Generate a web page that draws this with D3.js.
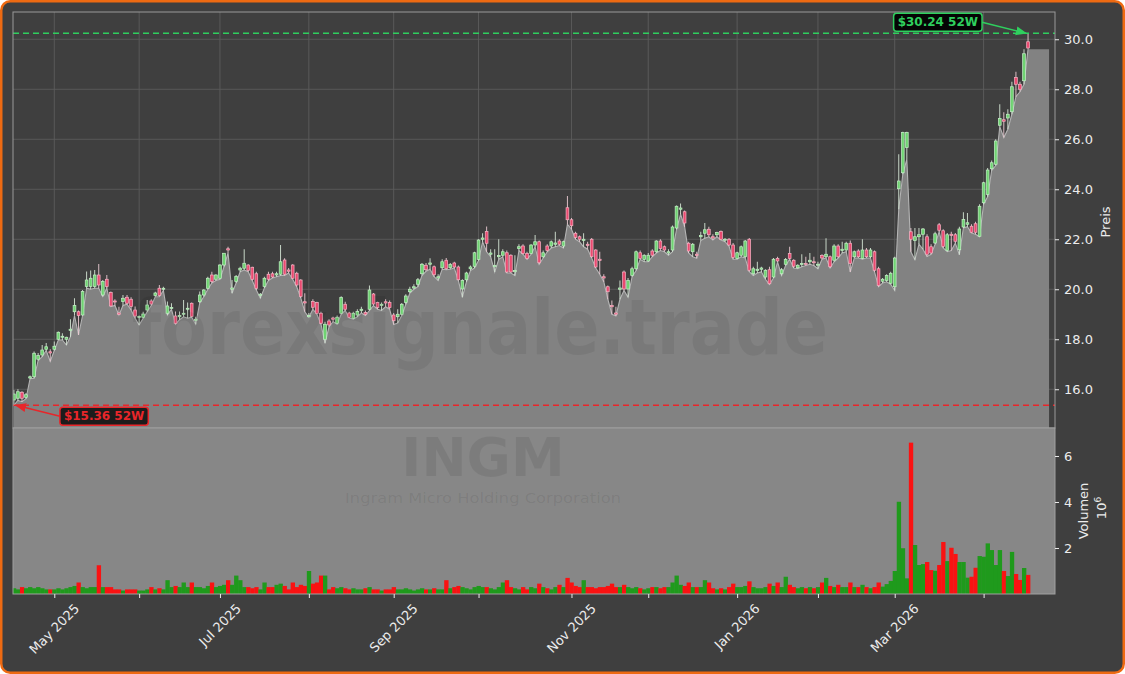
<!DOCTYPE html>
<html><head><meta charset="utf-8">
<script src="https://cdn.jsdelivr.net/npm/d3@7"></script>
<style>
html,body{margin:0;padding:0;background:#ffffff;}
svg{display:block;font-family:"DejaVu Sans",sans-serif;}
</style></head>
<body>
<svg id="chart" width="1125" height="674"></svg>
<script>
// ---------------- DATA ----------------
const opens = [15.57,15.64,15.88,15.68,16.45,16.50,17.20,17.37,17.60,17.50,17.60,18.00,18.10,18.00,18.35,19.10,19.10,18.97,20.11,20.11,
20.11,20.57,19.77,20.40,19.87,19.53,19.05,19.51,19.68,19.60,19.17,18.90,18.88,19.17,19.53,19.75,20.04,20.00,19.04,19.24,
18.93,18.90,19.00,19.20,19.44,18.75,19.50,19.77,20.04,20.57,20.40,20.44,20.97,21.62,20.00,20.31,20.77,20.84,20.97,20.88,
20.62,19.75,20.11,20.60,20.62,20.57,20.60,21.17,20.77,20.97,20.64,20.37,19.50,18.90,19.51,19.47,19.04,18.00,18.73,18.85,
18.64,19.04,19.40,19.05,18.84,18.97,19.15,19.07,19.20,19.81,19.47,19.35,19.50,19.47,18.97,18.90,19.00,19.47,19.90,20.05,
20.20,20.62,20.96,21.00,20.90,20.45,20.86,21.16,20.86,21.05,20.89,20.01,20.38,20.82,20.92,21.19,22.00,22.31,21.40,20.90,
21.30,21.36,21.46,21.36,20.70,21.63,21.73,21.43,21.43,21.77,21.90,21.30,21.73,21.73,21.80,21.93,21.73,23.26,22.78,22.24,
22.10,21.95,21.80,22.00,21.57,21.20,20.50,20.10,19.35,19.05,20.00,20.69,20.01,20.55,20.82,21.46,21.19,21.13,21.53,21.50,
21.93,21.70,21.45,21.57,22.45,23.20,23.10,21.84,21.50,21.40,22.10,22.24,22.40,22.10,22.18,22.31,21.97,22.00,21.77,21.23,
21.36,21.30,22.00,20.62,20.75,20.80,20.49,20.78,20.49,21.23,20.62,21.00,21.43,21.16,20.86,21.00,21.03,21.10,21.10,20.96,
21.35,21.30,21.30,21.16,21.73,21.55,21.57,21.84,21.30,21.53,21.23,21.57,21.30,21.50,20.82,20.32,20.35,20.24,20.10,24.02,
24.66,25.67,22.30,21.95,22.10,22.20,22.10,21.70,21.85,22.58,22.34,21.55,22.20,22.18,21.58,22.49,22.60,22.52,22.62,22.12,
23.46,23.79,24.82,25.00,26.56,26.78,26.85,27.10,28.47,28.20,28.34,29.90];
const highs = [15.97,16.00,15.92,15.85,16.55,17.51,17.45,17.77,17.85,17.60,17.91,18.31,18.24,18.10,18.80,19.64,19.15,19.97,20.71,20.75,
20.77,21.01,20.37,20.57,19.91,19.60,19.30,19.77,19.77,19.68,19.31,18.95,19.10,19.57,19.60,19.90,20.17,20.10,19.51,19.44,
19.11,19.11,19.57,19.47,19.47,18.90,19.91,20.00,20.50,20.70,20.60,21.00,21.45,21.70,20.37,20.57,20.90,21.60,21.00,20.90,
20.70,19.85,20.50,20.70,20.70,20.70,21.77,21.24,20.85,21.00,20.70,20.40,19.84,19.05,19.60,19.50,19.10,18.70,18.80,18.90,
18.95,19.72,19.50,19.10,19.10,19.20,19.30,19.15,20.15,19.85,19.50,19.47,19.60,19.55,19.05,19.20,19.45,19.80,20.10,20.20,
20.45,21.05,21.05,21.24,20.95,20.60,21.20,21.25,21.05,21.10,20.95,20.40,20.70,20.95,21.50,22.00,22.24,22.51,21.60,21.60,
22.00,21.60,21.55,21.40,21.36,21.80,21.80,21.50,21.80,22.17,21.95,21.55,21.80,21.95,22.30,22.00,21.95,23.73,22.85,22.30,
22.15,22.24,21.90,22.05,21.60,21.50,20.60,20.15,19.55,19.30,20.35,20.75,20.45,20.90,21.55,21.55,21.40,21.45,21.60,21.96,
22.00,21.75,21.60,22.55,23.35,23.43,23.15,21.90,21.85,21.50,22.30,22.65,22.50,22.20,22.30,22.35,22.05,22.05,21.85,21.50,
21.75,21.97,22.05,20.90,21.10,20.90,20.80,20.90,21.25,21.30,20.85,21.25,21.70,21.20,21.00,21.40,21.30,21.45,21.30,21.10,
21.40,22.04,21.35,21.80,21.80,21.90,21.90,21.95,21.55,21.60,22.00,21.65,21.65,21.55,20.90,20.45,20.60,20.70,21.30,25.40,
26.30,26.30,22.45,22.45,22.45,22.45,22.20,21.80,22.30,22.65,22.40,22.25,22.30,22.25,22.50,23.08,23.05,22.60,22.70,23.40,
24.30,24.85,25.15,26.00,27.40,27.08,27.20,28.30,28.70,28.30,29.60,30.24];
const lows = [15.36,15.55,15.50,15.62,16.42,16.44,17.15,17.30,17.55,17.11,17.55,17.97,17.97,17.77,18.10,18.95,18.17,18.95,20.04,20.00,
20.04,20.04,19.71,20.04,19.31,19.35,18.97,19.35,19.40,19.17,18.84,18.57,18.84,19.10,19.35,19.70,19.70,19.95,18.97,19.20,
18.60,18.78,18.90,18.84,18.88,18.60,19.45,19.70,20.00,20.25,20.35,20.40,20.90,21.45,19.84,20.25,20.70,20.77,20.70,20.35,
19.97,19.64,20.05,20.35,20.45,20.50,20.55,20.55,20.65,20.40,20.10,19.65,19.10,18.88,19.20,19.00,18.60,17.84,18.50,18.70,
18.60,19.00,19.15,18.85,18.80,18.90,19.05,18.95,19.15,19.35,19.20,19.15,19.30,19.20,18.59,18.65,18.95,19.40,19.85,20.00,
20.10,20.55,20.72,20.80,20.50,20.35,20.80,20.78,20.80,20.85,20.35,19.68,20.30,20.75,20.85,21.15,21.90,21.50,21.30,20.69,
21.20,21.30,20.65,20.65,20.55,21.55,21.40,21.20,21.40,21.70,21.00,21.25,21.50,21.65,21.70,21.75,21.65,22.60,22.40,22.00,
21.90,21.70,21.60,21.25,20.85,20.60,20.30,19.60,19.00,18.93,19.60,19.95,19.68,20.50,20.75,21.20,21.10,21.10,21.30,21.45,
21.55,21.50,21.36,21.50,22.40,23.00,22.50,21.45,21.30,21.24,21.95,22.04,22.10,21.97,22.10,21.97,21.90,21.72,21.20,21.20,
21.30,21.25,20.70,20.55,20.65,20.69,20.40,20.19,20.45,21.10,20.55,20.95,21.20,20.85,20.82,20.90,20.95,21.00,20.95,20.82,
21.20,21.25,20.85,21.10,21.25,21.45,21.50,20.69,21.25,21.25,21.20,21.25,21.25,20.70,20.10,20.25,20.30,20.20,19.95,23.20,
24.60,25.20,21.50,21.18,21.80,21.60,21.31,21.40,21.80,22.30,21.65,21.50,21.55,21.85,21.38,22.45,22.50,22.25,22.20,22.10,
23.40,23.70,24.75,24.95,26.50,26.07,26.40,27.00,27.70,27.90,28.20,29.60];
const closes = [15.81,15.90,15.64,15.78,16.50,17.44,17.35,17.57,17.70,17.45,17.72,18.28,18.12,18.08,18.40,19.35,18.95,19.91,20.37,20.44,
20.57,20.17,20.31,20.11,19.33,19.50,19.00,19.64,19.44,19.31,18.93,18.91,19.01,19.37,19.41,19.85,19.75,20.04,19.33,19.27,
18.64,18.95,19.04,19.24,18.91,18.80,19.77,19.97,20.44,20.31,20.57,20.97,21.44,21.57,20.05,20.51,20.84,21.04,20.75,20.40,
20.04,19.80,20.44,20.40,20.49,20.62,21.10,20.60,20.72,20.44,20.17,19.71,19.45,18.95,19.28,19.04,18.64,18.60,18.57,18.80,
18.88,19.67,19.20,18.88,19.04,19.11,19.20,19.00,19.97,19.41,19.27,19.40,19.45,19.27,18.74,19.00,19.40,19.73,20.00,20.10,
20.38,21.00,20.78,21.05,20.58,20.50,21.10,20.82,20.99,20.89,20.38,20.35,20.65,20.89,21.46,21.97,22.05,21.84,21.45,20.95,
21.35,21.50,20.69,20.69,20.75,21.70,21.43,21.23,21.77,21.90,21.06,21.46,21.55,21.90,21.85,21.80,21.90,22.78,22.54,22.07,
22.00,22.00,21.75,21.30,20.89,21.15,20.45,19.90,19.30,19.00,20.05,20.01,20.35,20.82,21.50,21.23,21.36,21.36,21.36,21.93,
21.63,21.57,21.50,22.49,23.32,23.25,22.65,21.53,21.80,21.35,22.15,22.38,22.18,22.05,22.27,22.00,22.00,21.77,21.27,21.46,
21.70,21.93,20.76,20.82,20.80,20.85,20.76,20.22,21.20,21.13,20.78,21.19,21.23,20.92,20.96,21.03,21.00,21.16,21.08,21.00,
21.25,21.40,20.90,21.73,21.30,21.60,21.84,21.03,21.50,21.30,21.57,21.30,21.57,20.76,20.15,20.40,20.55,20.64,21.25,24.33,
26.27,26.27,22.00,22.10,22.18,22.41,21.40,21.45,22.22,22.36,21.71,22.18,22.15,21.92,22.41,22.79,22.66,22.28,22.28,23.32,
24.26,24.77,25.06,25.93,26.83,26.72,27.00,28.10,28.20,28.00,29.42,29.65];
// volume in millions of shares
const volumes = [0.25,0.20,0.30,0.25,0.30,0.25,0.30,0.25,0.20,0.20, 0.20,0.25,0.20,0.25,0.30,0.35,0.50,0.30,0.25,0.30,
0.30,1.25,0.30,0.30,0.30,0.20,0.20,0.15,0.20,0.20, 0.20,0.15,0.15,0.20,0.30,0.20,0.25,0.20,0.60,0.30,
0.35,0.30,0.50,0.30,0.50,0.30,0.30,0.25,0.35,0.50, 0.30,0.35,0.40,0.60,0.40,0.80,0.60,0.30,0.30,0.25,
0.30,0.20,0.50,0.30,0.30,0.40,0.45,0.35,0.20,0.50, 0.30,0.40,0.35,1.00,0.45,0.50,0.80,0.80,0.20,0.30,
0.25,0.30,0.25,0.20,0.25,0.20,0.20,0.25,0.30,0.20, 0.20,0.15,0.20,0.20,0.30,0.20,0.20,0.25,0.20,0.15,
0.20,0.25,0.20,0.20,0.25,0.20,0.20,0.60,0.25,0.30, 0.35,0.30,0.25,0.20,0.30,0.35,0.30,0.30,0.25,0.20,
0.30,0.50,0.60,0.30,0.25,0.20,0.30,0.20,0.30,0.25, 0.45,0.30,0.25,0.20,0.30,0.40,0.30,0.70,0.50,0.35,
0.30,0.60,0.30,0.30,0.25,0.30,0.30,0.35,0.45,0.30, 0.30,0.40,0.30,0.25,0.30,0.25,0.20,0.25,0.30,0.30,
0.25,0.30,0.30,0.50,0.80,0.40,0.35,0.50,0.30,0.30, 0.30,0.60,0.50,0.25,0.20,0.25,0.20,0.30,0.45,0.30,
0.30,0.35,0.55,0.30,0.25,0.25,0.30,0.45,0.35,0.50, 0.30,0.75,0.40,0.30,0.25,0.30,0.25,0.30,0.25,0.30,
0.50,0.70,0.35,0.30,0.40,0.30,0.30,0.50,0.30,0.30, 0.40,0.30,0.25,0.30,0.50,0.32,0.43,0.57,1.00,4.01,
1.99,0.68,6.58,2.13,1.26,1.30,1.39,1.04,1.01,1.26, 2.26,1.43,2.01,1.74,1.39,1.39,0.71,0.75,1.14,1.65,
1.62,2.20,1.91,1.26,1.91,1.00,0.78,1.83,0.87,0.61, 1.13,0.83];
// month ticks (trading-day index of first session of month)
const tickIndex  = [10,31,51,73,94,115,138,157,179,199,218,240];
const tickLabels = ["May 2025","","Jul 2025","","Sep 2025","","Nov 2025","","Jan 2026","","Mar 2026",""];
const priceTicks = [16,18,20,22,24,26,28,30];
const volumeTicks = [2,4,6];
const high52 = 30.24, low52 = 15.36;
const watermark = "forexsignale.trade", symbol = "INGM", companyName = "Ingram Micro Holding Corporation";

// ---------------- LAYOUT ----------------
const svg = d3.select("#chart");
const L = 13, R = 1055, pTop = 12, pBot = 428, vTop = 428, vBot = 594;
const n = closes.length;
const x = d3.scaleLinear().domain([-0.22, 257.67]).range([L, R]);
const y = d3.scaleLinear().domain([14.45, 31.09]).range([pBot, pTop]);
const yv = d3.scaleLinear().domain([0, 7.217]).range([vBot, vTop]);
const step = x(1) - x(0);

const BG = "#3f3f3f", TXT = "#ececec";
svg.append("rect").attr("x",1.25).attr("y",1.25).attr("width",1122.5).attr("height",671.5)
  .attr("rx",9).attr("fill",BG).attr("stroke","#ee6a12").attr("stroke-width",2.5);

const defs = svg.append("defs");
defs.append("clipPath").attr("id","pclip").append("rect").attr("x",L).attr("y",pTop).attr("width",R-L).attr("height",pBot-pTop);
defs.append("clipPath").attr("id","vclip").append("rect").attr("x",L).attr("y",vTop).attr("width",R-L).attr("height",vBot-vTop);
function marker(id,color){
  defs.append("marker").attr("id",id).attr("viewBox","0 0 10 10").attr("refX",9).attr("refY",5)
    .attr("markerWidth",7).attr("markerHeight",7).attr("orient","auto-start-reverse")
    .append("path").attr("d","M0,1 L10,5 L0,9 z").attr("fill",color);
}
marker("mg","#2fcf5e"); marker("mr","#e8262a");

// price panel background + grid
svg.append("rect").attr("x",L).attr("y",pTop).attr("width",R-L).attr("height",pBot-pTop).attr("fill",BG);
const grid = svg.append("g").attr("stroke","#5c5c5c").attr("stroke-width",0.9);
grid.selectAll(".gh").data(priceTicks).join("line").attr("x1",L).attr("x2",R).attr("y1",d=>y(d)).attr("y2",d=>y(d));
grid.selectAll(".gv").data(tickIndex).join("line").attr("x1",d=>x(d)).attr("x2",d=>x(d)).attr("y1",pTop).attr("y2",pBot);

// area of lows (extends flat after last session)
const areaPts = lows.map((v,i)=>[i,v]);
areaPts.push([n-1+5.2, lows[n-1]]);
const pg = svg.append("g").attr("clip-path","url(#pclip)");
pg.append("path").datum(areaPts)
  .attr("d", d3.area().x(d=>x(d[0])).y0(pBot).y1(d=>y(d[1])))
  .attr("fill","#828282");
pg.append("path").datum(areaPts.slice(0,n))
  .attr("d", d3.line().x(d=>x(d[0])).y(d=>y(d[1])))
  .attr("fill","none").attr("stroke","#b4b4b4").attr("stroke-width",1.1);

// watermark
svg.append("text").attr("x",480).attr("y",354).attr("text-anchor","middle")
  .attr("font-size",76).attr("font-weight","bold").attr("fill","#000").attr("fill-opacity",0.065)
  .attr("textLength",696).attr("lengthAdjust","spacingAndGlyphs").text(watermark);

// candles
const cg = pg.append("g");
const bw = step*0.68;
cg.selectAll(".wick").data(closes).join("line")
  .attr("x1",(d,i)=>x(i)).attr("x2",(d,i)=>x(i))
  .attr("y1",(d,i)=>y(highs[i])).attr("y2",(d,i)=>y(lows[i]))
  .attr("stroke",(d,i)=> closes[i]>=opens[i] ? "#d6e6d6" : "#ecccd4").attr("stroke-width",0.9);
cg.selectAll(".body").data(closes).join("rect")
  .attr("x",(d,i)=>x(i)-bw/2).attr("width",bw)
  .attr("y",(d,i)=>y(Math.max(opens[i],closes[i])))
  .attr("height",(d,i)=>Math.max(1,Math.abs(y(opens[i])-y(closes[i]))))
  .attr("fill",(d,i)=> closes[i]>=opens[i] ? "#6fd372" : "#ea4a70")
  .attr("stroke",(d,i)=> closes[i]>=opens[i] ? "#c4f0c6" : "#f7b3c4").attr("stroke-width",0.7);

// 52W lines
pg.append("line").attr("x1",L).attr("x2",R).attr("y1",y(high52)).attr("y2",y(high52))
  .attr("stroke","#2fcf5e").attr("stroke-width",1.4).attr("stroke-dasharray","6,4");
pg.append("line").attr("x1",L).attr("x2",R).attr("y1",y(low52)).attr("y2",y(low52))
  .attr("stroke","#e8262a").attr("stroke-width",1.4).attr("stroke-dasharray","6,4");

// price panel frame
svg.append("rect").attr("x",L).attr("y",pTop).attr("width",R-L).attr("height",pBot-pTop)
  .attr("fill","none").attr("stroke","#9a9a9a").attr("stroke-width",1);

// volume panel
svg.append("rect").attr("x",L).attr("y",vTop).attr("width",R-L).attr("height",vBot-vTop).attr("fill","#878787");
svg.append("text").attr("x",483).attr("y",476).attr("text-anchor","middle")
  .attr("font-size",54).attr("font-weight","bold").attr("fill","#000").attr("fill-opacity",0.08).text(symbol);
svg.append("text").attr("x",483).attr("y",503).attr("text-anchor","middle")
  .attr("font-size",13.5).attr("fill","#000").attr("fill-opacity",0.08)
  .attr("textLength",276).attr("lengthAdjust","spacingAndGlyphs").text(companyName);
const vg = svg.append("g").attr("clip-path","url(#vclip)");
vg.selectAll(".vb").data(volumes).join("rect")
  .attr("x",(d,i)=>x(i)-step/2).attr("width",step+0.3)
  .attr("y",d=>yv(d)).attr("height",d=>vBot-yv(d))
  .attr("fill",(d,i)=> closes[i]>=opens[i] ? "#1f9a1c" : "#fa1212");
svg.append("rect").attr("x",L).attr("y",vTop).attr("width",R-L).attr("height",vBot-vTop)
  .attr("fill","none").attr("stroke","#a0a0a0").attr("stroke-width",1);

// right axes
const yAxis = d3.axisRight(y).tickValues(priceTicks).tickFormat(d3.format(".1f")).tickSize(4).tickPadding(5);
const ga = svg.append("g").attr("transform",`translate(${R},0)`).call(yAxis);
const vAxis = d3.axisRight(yv).tickValues(volumeTicks).tickFormat(d3.format("d")).tickSize(4).tickPadding(5);
const gv = svg.append("g").attr("transform",`translate(${R},0)`).call(vAxis);
[ga,gv].forEach(g=>{
  g.select(".domain").remove();
  g.selectAll("line").attr("stroke",TXT);
  g.selectAll("text").attr("fill",TXT).attr("font-size",13).attr("font-family","DejaVu Sans");
});

// x axis
const xAxis = d3.axisBottom(x).tickValues(tickIndex).tickFormat("").tickSize(4);
const gx = svg.append("g").attr("transform",`translate(0,${vBot})`).call(xAxis);
gx.select(".domain").remove();
gx.selectAll("line").attr("stroke",TXT);
tickIndex.forEach((t,k)=>{
  if(!tickLabels[k]) return;
  const tx = svg.append("text").attr("font-size",13).attr("fill",TXT)
    .attr("text-anchor","middle").attr("dominant-baseline","central").text(tickLabels[k]);
  const len = tx.node().getComputedTextLength();
  const hh = (len + 15)*Math.SQRT1_2;
  tx.attr("transform",`translate(${x(t)},${601 + hh/2}) rotate(-45)`);
});

// axis titles
svg.append("text").attr("transform",`translate(1110,${(pTop+pBot)/2+2}) rotate(-90)`)
  .attr("text-anchor","middle").attr("font-size",13).attr("fill",TXT).text("Preis");
svg.append("text").attr("transform",`translate(1088,${(vTop+vBot)/2}) rotate(-90)`)
  .attr("text-anchor","middle").attr("font-size",13).attr("fill",TXT).text("Volumen");
const ex = svg.append("text").attr("transform",`translate(1106,${(vTop+vBot)/2-3}) rotate(-90)`)
  .attr("text-anchor","middle").attr("font-size",13).attr("fill",TXT);
ex.append("tspan").text("10");
ex.append("tspan").attr("dy",-5).attr("font-size",9).text("6");

// annotations
function annot(label, color, bg, tx, ty, ax, ay, anchor, mk){
  const g = svg.append("g");
  const t = g.append("text").attr("font-size",12).attr("font-weight","bold").attr("fill",color)
    .attr("dominant-baseline","central").text(label);
  const w = t.node().getComputedTextLength();
  const bx = anchor==="end" ? tx - w - 4 : tx + 4;
  t.attr("x",bx).attr("y",ty);
  g.insert("rect","text").attr("x",bx-4).attr("y",ty-9).attr("width",w+8).attr("height",18).attr("rx",3)
    .attr("fill",bg).attr("stroke",color).attr("stroke-width",1.5);
  g.append("line").attr("x1",tx).attr("y1",ty).attr("x2",ax).attr("y2",ay)
    .attr("stroke",color).attr("stroke-width",1.6).attr("marker-end",`url(#${mk})`);
}
const hiIdx = highs.indexOf(d3.max(highs)), loIdx = lows.indexOf(d3.min(lows));
annot(`$${high52.toFixed(2)} 52W`, "#2fcf5e", "#050505", x(hiIdx)-46, y(high52)-11, x(hiIdx)-2, y(high52), "end", "mg");
annot(`$${low52.toFixed(2)} 52W`, "#e8262a", "#1c1c1c", x(loIdx)+46, y(low52)+11, x(loIdx)+2, y(low52), "start", "mr");
</script>
</body></html>
